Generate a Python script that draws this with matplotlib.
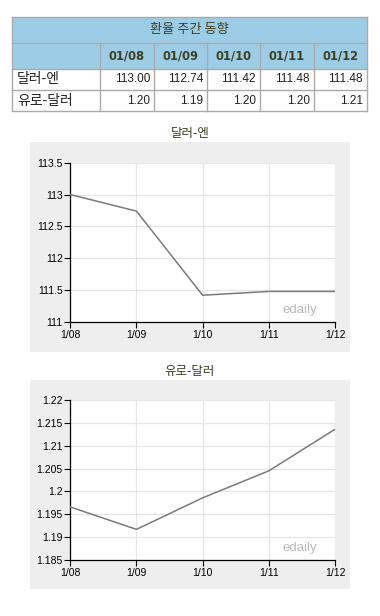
import matplotlib
matplotlib.use("Agg")
import matplotlib.pyplot as plt
from matplotlib.patches import Rectangle

plt.rcParams['font.family'] = ['Noto Sans CJK KR', 'DejaVu Sans']

# ---- data ----
table_title = "환율 주간 동향"
dates_table = ["01/08", "01/09", "01/10", "01/11", "01/12"]
row_labels = ["달러-엔", "유로-달러"]
usdjpy_table = ["113.00", "112.74", "111.42", "111.48", "111.48"]
eurusd_table = ["1.20", "1.19", "1.20", "1.20", "1.21"]

dates = ["1/08", "1/09", "1/10", "1/11", "1/12"]
usdjpy = [113.00, 112.74, 111.42, 111.48, 111.48]
eurusd = [1.1966, 1.1917, 1.1986, 1.2045, 1.2136]

W, H = 380, 616
fig = plt.figure(figsize=(W / 100, H / 100), dpi=100)
fig.patch.set_facecolor("white")

def fx(x):
    return x / W

def fy(y):
    return 1 - y / H

def rect(x0, y0, x1, y1, fc, ec="none", lw=0, z=1):
    fig.patches.append(Rectangle((fx(x0), fy(y1)), fx(x1) - fx(x0), fy(y0) - fy(y1),
                                 transform=fig.transFigure, facecolor=fc, edgecolor=ec,
                                 linewidth=lw, zorder=z))

# ---- table ----
hdr = "#9DCDE6"
border = "#AAAAAA"
txtc = "#3F3F22"
cols = [12, 100, 154, 207, 260, 314, 367]
rows = [17, 43, 69, 90, 111]
rect(12, 17, 367, 69, hdr, z=1)
rect(12, 69, 367, 111, "white", z=1)
lw = 1.0
for y in rows:
    fig.add_artist(plt.Line2D([fx(12), fx(367)], [fy(y), fy(y)], color=border, lw=lw,
                              transform=fig.transFigure, zorder=3))
fig.add_artist(plt.Line2D([fx(12), fx(12)], [fy(17), fy(111)], color=border, lw=lw,
                          transform=fig.transFigure, zorder=3))
fig.add_artist(plt.Line2D([fx(367), fx(367)], [fy(17), fy(111)], color=border, lw=lw,
                          transform=fig.transFigure, zorder=3))
for x in cols[1:-1]:
    fig.add_artist(plt.Line2D([fx(x), fx(x)], [fy(43), fy(111)], color=border, lw=lw,
                              transform=fig.transFigure, zorder=3))

fig.text(fx(189.5), fy(29), table_title, ha="center", va="center", fontsize=9.5, color=txtc)
for i, d in enumerate(dates_table):
    cx = (cols[i + 1] + cols[i + 2]) / 2
    fig.text(fx(cx), fy(56), d, ha="center", va="center", fontsize=8.3, color=txtc,
             fontweight="bold", family=["DejaVu Sans"])
for r, (lab, vals) in enumerate(zip(row_labels, [usdjpy_table, eurusd_table])):
    cy = (rows[r + 2] + rows[r + 3]) / 2
    fig.text(fx(17), fy(cy), lab, ha="left", va="center", fontsize=10, color="#222222")
    for i, v in enumerate(vals):
        fig.text(fx(cols[i + 2] - 4), fy(cy), v, ha="right", va="center", fontsize=8.5,
                 color="#222222", family=["Liberation Sans"])

# ---- charts ----
def chart(title, title_y, panel, plot, values, ylim, yticks, yticklabels):
    px0, py0, px1, py1 = panel
    rect(px0, py0, px1, py1, "#EEEEEE", z=-5)
    fig.text(fx((px0 + px1) / 2), fy(title_y), title, ha="center", va="center",
             fontsize=9, color=txtc)
    x0, y0, x1, y1 = plot
    ax = fig.add_axes([fx(x0), fy(y1), fx(x1) - fx(x0), fy(y0) - fy(y1)])
    ax.set_zorder(5)
    ax.set_facecolor("white")
    xs = list(range(len(dates)))
    ax.plot(xs, values, color="#7A7A7A", lw=1.1, zorder=3)
    ax.set_xlim(0, len(dates) - 1)
    ax.set_ylim(*ylim)
    ax.set_xticks(xs)
    ax.set_xticklabels(dates)
    ax.set_yticks(yticks)
    ax.set_yticklabels(yticklabels)
    ax.grid(True, color="#E6E6E6", lw=0.9)
    ax.set_axisbelow(True)
    for s in ["top", "right"]:
        ax.spines[s].set_visible(False)
    for s in ["left", "bottom"]:
        ax.spines[s].set_color("black")
        ax.spines[s].set_linewidth(0.9)
    ax.tick_params(axis="both", direction="out", length=4, width=0.8, color="black",
                   labelsize=7.5, pad=1.5, labelcolor="black")
    for lab in ax.get_xticklabels() + ax.get_yticklabels():
        lab.set_family(["Liberation Sans"])
    ax.text(0.932, 0.075, "edaily", transform=ax.transAxes, ha="right", va="center",
            fontsize=9.5, color="#BBBBBB", family=["Liberation Sans"])
    return ax

chart("달러-엔", 134, (30, 142, 350, 352), (70.3, 162.7, 335, 322),
      usdjpy, (111, 113.5), [111, 111.5, 112, 112.5, 113, 113.5],
      ["111", "111.5", "112", "112.5", "113", "113.5"])

chart("유로-달러", 372, (30, 380, 350, 589), (70.3, 400, 335, 560),
      eurusd, (1.185, 1.22), [1.185, 1.19, 1.195, 1.2, 1.205, 1.21, 1.215, 1.22],
      ["1.185", "1.19", "1.195", "1.2", "1.205", "1.21", "1.215", "1.22"])

fig.savefig("out.png", dpi=100, facecolor="white")
